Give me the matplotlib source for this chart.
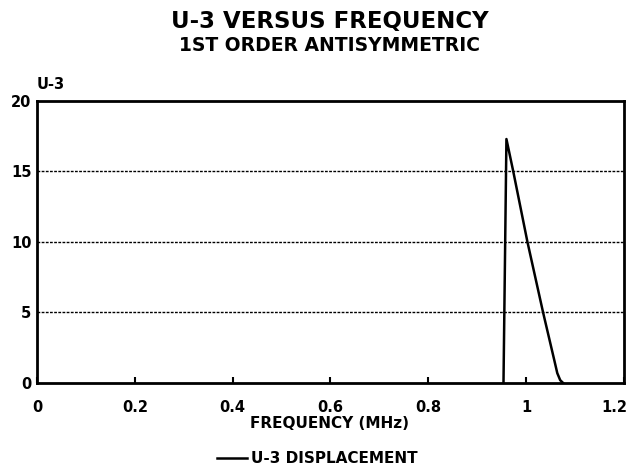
import matplotlib
matplotlib.use("Agg")
import matplotlib.pyplot as plt
import matplotlib.transforms as mtransforms

plt.rcParams['font.family'] = ['DejaVu Sans']
plt.rcParams['font.weight'] = 'bold'

# Data
freq_mhz = [0.954, 0.960, 0.974, 1.003, 1.035, 1.058, 1.064, 1.070, 1.076]
u3_disp = [0.0, 17.3, 15.0, 10.0, 5.0, 1.6, 0.7, 0.2, 0.0]
x_ticks = [0, 0.2, 0.4, 0.6, 0.8, 1, 1.2]
x_tick_labels = ['0', '0.2', '0.4', '0.6', '0.8', '1', '1.2']
y_ticks = [0, 5, 10, 15, 20]
y_tick_labels = ['0', '5', '10', '15', '20']
series_name = 'U-3 DISPLACEMENT'

fig = plt.figure(figsize=(6.32, 4.74), dpi=100)
ax = fig.add_axes([0.0585, 0.192, 0.9285, 0.595])

ax.plot(freq_mhz, u3_disp, color='black', lw=1.8, label=series_name)

ax.set_xlim(0, 1.2)
ax.set_ylim(0, 20)
ax.set_xticks(x_ticks)
ax.set_xticklabels(x_tick_labels, fontsize=10.5, fontweight='bold')
ax.set_yticks(y_ticks)
ax.set_yticklabels(y_tick_labels, fontsize=10.5, fontweight='bold')
ax.tick_params(axis='x', direction='in', length=4, width=1.5, pad=12)
ax.tick_params(axis='y', length=0, pad=4)

# keep the last x tick label inside the figure
last = ax.get_xticklabels()[-1]
last.set_transform(last.get_transform() +
                   mtransforms.ScaledTranslation(-9 / 100, 0, fig.dpi_scale_trans))

for y in [5, 10, 15]:
    ax.axhline(y, color='black', lw=1.0, ls=(0, (2, 1)), zorder=0)

for s in ax.spines.values():
    s.set_linewidth(2)
    s.set_color('black')

fig.text(0.522, 0.978, 'U-3 VERSUS FREQUENCY', ha='center', va='top',
         fontsize=16.5, fontweight='bold')
fig.text(0.522, 0.925, '1ST ORDER ANTISYMMETRIC', ha='center', va='top',
         fontsize=13.5, fontweight='bold')
fig.text(0.0585, 0.805, 'U-3', ha='left', va='bottom', fontsize=10.5,
         fontweight='bold')
fig.text(0.522, 0.106, 'FREQUENCY (MHz)', ha='center', va='center',
         fontsize=11, fontweight='bold')

fig.legend(loc='center', bbox_to_anchor=(0.502, 0.032), frameon=False,
           handlelength=2.0, handletextpad=0.25,
           prop={'size': 11, 'weight': 'bold'})

fig.savefig('out.png', dpi=100)
